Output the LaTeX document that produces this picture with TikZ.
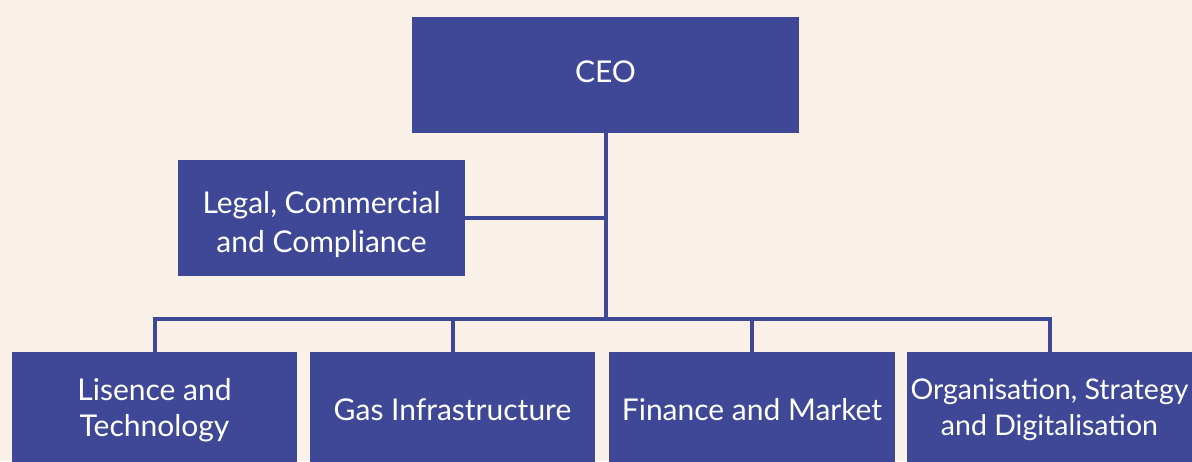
\documentclass[tikz,border=0pt]{standalone}
\usepackage{fontspec}
\setmainfont{Lato}
\definecolor{bg}{RGB}{249,241,232}
\definecolor{boxc}{RGB}{63,72,151}
\tikzset{
  unit/.style={draw=none, fill=boxc, text=white, align=center, inner sep=0pt,
    font=\fontsize{30}{36}\selectfont},
  txt/.style={text=white, align=center, inner sep=0pt},
  link/.style={draw=boxc, line width=4pt, line join=miter, line cap=butt}
}
\begin{document}
\begin{tikzpicture}[x=1pt,y=-1pt]
\path[use as bounding box, fill=bg] (0,0) rectangle (1192,461);
\begin{scope}
\clip (0,0) rectangle (1192,461);
\node[unit, minimum width=387pt, minimum height=116pt, text depth=6pt] (ceo) at (605.5,75) {CEO};
\node[unit, minimum width=287pt, minimum height=116pt] (legal) at (321.5,218) {};
\node[txt, font=\fontsize{30}{39}\selectfont] (legaltxt) at ([yshift=-7pt]legal.center) {Legal, Commercial\\and Compliance};
\node[unit, minimum width=285pt, minimum height=116pt] (lic) at (154.5,410) {Lisence and\\Technology};
\node[unit, minimum width=285pt, minimum height=116pt] (gas) at (452.5,410) {Gas Infrastructure};
\node[unit, minimum width=286pt, minimum height=116pt] (fin) at (752,410) {Finance and Market};
\node[unit, minimum width=285pt, minimum height=116pt, font=\fontsize{28.5}{36}\selectfont] (org) at (1049.5,410) {Organisation, Strategy\\and Digitalisation};
\coordinate (bus) at (605.5,319);
\draw[link] (ceo.south) -- (bus);
\draw[link] (legal.east) -- (legal.east -| ceo.south);
\draw[link] (lic.north) |- (bus) -| (org.north);
\draw[link] (gas.north) -- (gas.north |- bus);
\draw[link] (fin.north) -- (fin.north |- bus);
\end{scope}
\end{tikzpicture}
\end{document}
